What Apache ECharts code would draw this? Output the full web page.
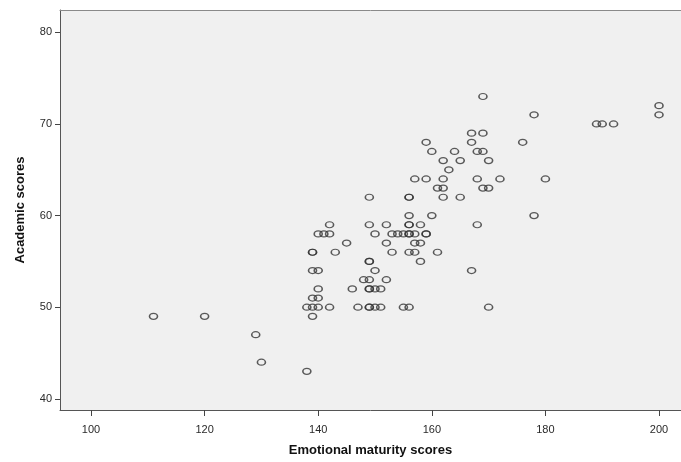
<!DOCTYPE html>
<html>
<head>
<meta charset="utf-8">
<script src="https://cdn.jsdelivr.net/npm/echarts@6/dist/echarts.min.js"></script>
<style>html,body{margin:0;padding:0;background:#fff;}#c{width:681px;height:462px;}</style>
</head>
<body>
<div id="c"></div>
<script>
// Emotional maturity scores (x) and Academic scores (y), one entry per respondent
const emotionalScores = [
  111,120,129,130,138,
  139,
  138,139,140,142,147,149,149,150,151,155,156,170,
  139,140,
  140,146,149,149,150,151,
  148,149,152,
  139,140,150,167,
  149,149,158,
  139,139,143,153,156,157,161,
  145,152,157,158,
  140,141,142,150,153,154,155,156,156,157,159,159,
  142,149,152,156,156,158,168,
  156,160,178,
  149,156,156,162,165,
  161,162,169,170,
  157,159,162,168,172,180,
  163,
  162,165,170,
  160,164,168,169,
  159,167,176,
  167,169,
  189,190,192,
  178,200,
  200,
  169
];
const academicScores = [
  49,49,47,44,43,
  49,
  50,50,50,50,50,50,50,50,50,50,50,50,
  51,51,
  52,52,52,52,52,52,
  53,53,53,
  54,54,54,54,
  55,55,55,
  56,56,56,56,56,56,56,
  57,57,57,57,
  58,58,58,58,58,58,58,58,58,58,58,58,
  59,59,59,59,59,59,59,
  60,60,60,
  62,62,62,62,62,
  63,63,63,63,
  64,64,64,64,64,64,
  65,
  66,66,66,
  67,67,67,67,
  68,68,68,
  69,69,
  70,70,70,
  71,71,
  72,
  73
];
const xTickValues = [100, 120, 140, 160, 180, 200];
const yTickValues = [40, 50, 60, 70, 80];
const xTitle = 'Emotional maturity scores';
const yTitle = 'Academic scores';

const points = emotionalScores.map((x, i) => [x, academicScores[i]]);

const X_MIN = 94.54, X_MAX = 203.87;
const chart = echarts.init(document.getElementById('c'), null, {renderer: 'canvas'});
chart.setOption({
  animation: false,
  backgroundColor: '#ffffff',
  grid: {
    left: 60, right: 0, top: 10, bottom: 44,
    show: true, backgroundColor: '#f0f0f0', borderWidth: 0
  },
  xAxis: [{
    type: 'value', min: X_MIN, max: X_MAX,
    name: xTitle, nameLocation: 'middle', nameGap: 34,
    nameTextStyle: {fontFamily: 'Liberation Sans', fontWeight: 'bold', fontSize: 13, color: '#111'},
    axisLine: {show: true, onZero: false, lineStyle: {color: '#555', width: 1}},
    axisTick: {show: true, inside: false, length: 6, customValues: xTickValues, lineStyle: {color: '#444'}},
    axisLabel: {customValues: xTickValues, margin: 14, fontFamily: 'Liberation Sans', fontSize: 11, color: '#2a2a2a'},
    splitLine: {show: false}
  }, {
    type: 'value', position: 'top', min: X_MIN, max: X_MAX,
    axisLine: {show: true, onZero: false, lineStyle: {color: '#8a8a8a', width: 1}},
    axisTick: {show: false}, axisLabel: {show: false}, splitLine: {show: false}
  }],
  yAxis: {
    type: 'value', min: 38.78, max: 82.44,
    name: yTitle, nameLocation: 'middle', nameGap: 33, nameRotate: 90,
    nameTextStyle: {fontFamily: 'Liberation Sans', fontWeight: 'bold', fontSize: 13, color: '#111'},
    axisLine: {show: true, onZero: false, lineStyle: {color: '#555', width: 1}},
    axisTick: {show: true, inside: false, length: 5, customValues: yTickValues, lineStyle: {color: '#444'}},
    axisLabel: {customValues: yTickValues, margin: 8, fontFamily: 'Liberation Sans', fontSize: 11, color: '#2a2a2a'},
    splitLine: {show: false}
  },
  series: [{
    type: 'scatter',
    xAxisIndex: 0,
    data: points,
    symbol: 'circle',
    symbolSize: [8, 6],
    itemStyle: {color: 'rgba(0,0,0,0)', borderColor: '#333333', borderWidth: 1.4},
    emphasis: {disabled: true}
  }]
});
</script>
</body>
</html>
